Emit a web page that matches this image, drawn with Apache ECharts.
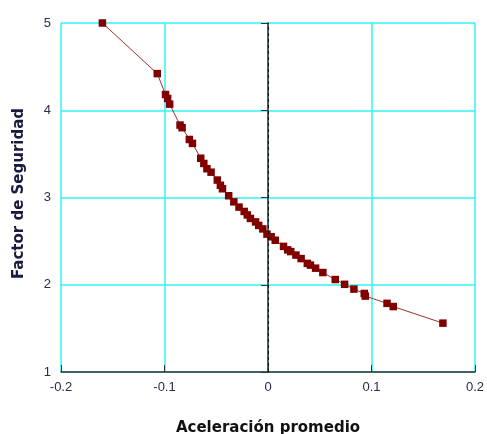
<!DOCTYPE html>
<html>
<head>
<meta charset="utf-8">
<script src="https://cdn.jsdelivr.net/npm/echarts@6/dist/echarts.min.js"></script>
<style>
html, body { margin: 0; padding: 0; background: #ffffff; }
#chart { width: 487px; height: 434px; }
</style>
</head>
<body>
<div id="chart"></div>
<script>
// aceleración promedio (x) and factor de seguridad (y)
const aceleracion = [
  -0.160, -0.107, -0.099, -0.097, -0.095, -0.085, -0.083, -0.076, -0.073,
  -0.065, -0.062, -0.059, -0.055, -0.049, -0.046, -0.044, -0.038, -0.033,
  -0.028, -0.023, -0.020, -0.017, -0.012, -0.009, -0.005, -0.001, 0.003,
  0.007, 0.015, 0.019, 0.022, 0.027, 0.032, 0.038, 0.041, 0.046, 0.053,
  0.065, 0.074, 0.083, 0.093, 0.094, 0.115, 0.121, 0.169
]
const factorSeguridad = [
  5.00, 4.42, 4.18, 4.135, 4.07, 3.83, 3.80, 3.665, 3.62,
  3.45, 3.39, 3.33, 3.29, 3.20, 3.14, 3.10, 3.02, 2.95,
  2.89, 2.84, 2.80, 2.76, 2.72, 2.68, 2.64, 2.58, 2.55,
  2.51, 2.44, 2.40, 2.38, 2.34, 2.30, 2.245, 2.225, 2.19, 2.14,
  2.06, 2.005, 1.95, 1.90, 1.87, 1.787, 1.75, 1.56
]
const xTicks = [-0.2, -0.1, 0, 0.1, 0.2]
const yTicks = [1, 2, 3, 4, 5]

const points = aceleracion.map((a, i) => [a, factorSeguridad[i]])

var myChart = echarts.init(document.getElementById('chart'))
var option = {
  animation: false,
  grid: { left: 61, right: 12, top: 23, bottom: 62, containLabel: false, outerBoundsMode: 'none' },
  xAxis: {
    type: 'value',
    min: xTicks[0],
    max: xTicks[xTicks.length - 1],
    interval: 0.1,
    name: 'Aceleración promedio',
    nameLocation: 'middle',
    nameGap: 49,
    nameTextStyle: { fontFamily: 'Verdana, DejaVu Sans', fontWeight: 'bold', fontSize: 15, color: '#111111' },
    axisLine: { lineStyle: { color: '#333333', width: 1.5 } },
    axisTick: { inside: true, length: 7, lineStyle: { color: '#333333' } },
    axisLabel: {
      fontFamily: 'Liberation Sans, Arial', fontSize: 13, color: '#2b2b4a', margin: 9,
      formatter: v => String(Math.round(v * 10) / 10)
    },
    splitLine: { lineStyle: { color: '#33f3f3', width: 1.5 } }
  },
  yAxis: {
    type: 'value',
    min: yTicks[0],
    max: yTicks[yTicks.length - 1],
    interval: 1,
    name: 'Factor de Seguridad',
    nameLocation: 'middle',
    nameGap: 34,
    nameTextStyle: { fontFamily: 'Verdana, DejaVu Sans', fontWeight: 'bold', fontSize: 15, color: '#1a1a40', padding: [0, 0, 0, 8] },
    axisLine: { show: true, lineStyle: { color: '#333333', width: 1.5 } },
    axisTick: { show: true, length: 7, lineStyle: { color: '#333333' } },
    axisLabel: { fontFamily: 'Liberation Sans, Arial', fontSize: 13, color: '#2b2b4a', margin: 10 },
    splitLine: { lineStyle: { color: '#33f3f3', width: 1.5 } }
  },
  series: [
    {
      type: 'line',
      data: points,
      symbol: 'rect',
      symbolSize: 7.5,
      lineStyle: { color: '#9a3030', width: 1 },
      itemStyle: { color: '#800000' },
      markLine: {
        silent: true,
        symbol: 'none',
        label: { show: false },
        lineStyle: { color: '#111111', type: [3, 3], width: 1 },
        data: [{ xAxis: 0 }]
      },
      z: 3
    }
  ]
}
option && myChart.setOption(option)
</script>
</body>
</html>
